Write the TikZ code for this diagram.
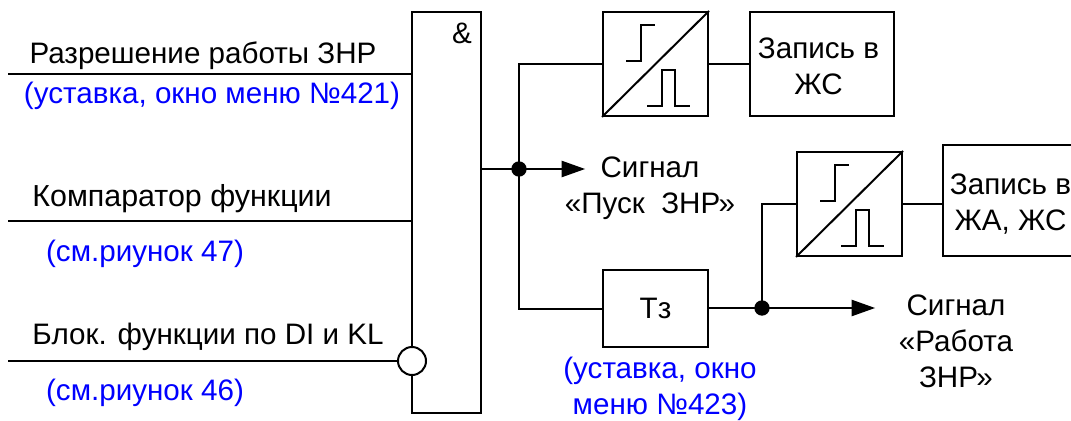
\documentclass[tikz,border=0pt]{standalone}
\usepackage{fontspec}
\setmainfont{Liberation Sans}
\usetikzlibrary{arrows.meta,calc}
\definecolor{setblue}{RGB}{0,0,255}
\tikzset{
  x=0.75pt,y=-0.75pt,
  wire/.style={line width=1.5pt,line cap=rect},
  arrowwire/.style={wire,-{Triangle[length=17.5pt,width=12.5pt,line width=0pt]}},
  boxed/.style={draw,line width=1.5pt,inner sep=0pt,fill=white,font=\fontsize{22.2}{27}\selectfont},
  conv/.style={boxed,minimum width=78.75pt,minimum height=78pt},
  recbox/.style={boxed,minimum height=78pt,align=center},
  txt/.style={inner sep=0pt,outer sep=0pt,align=center,font=\fontsize{22.2}{27}\selectfont},
  note/.style={txt,text=setblue},
  dotj/.style={circle,fill=black,inner sep=0pt,minimum size=11.5pt},
  inv/.style={circle,draw,line width=1.5pt,fill=white,inner sep=0pt,minimum size=21pt},
  glyph/.style={line width=1.5pt}
}
\newcommand{\convglyphs}[1]{%
  \draw[glyph] (#1.south west) -- (#1.north east);
  \draw[glyph] ($(#1.north west)+(24,50)$) -- ++(15,0) -- ++(0,-36) -- ++(14,0);
  \draw[glyph] ($(#1.north west)+(45,95)$) -- ++(15,0) -- ++(0,-36) -- ++(13,0) -- ++(0,36) -- ++(15,0);
}
\begin{document}
\begin{tikzpicture}
\clip (0,0) rectangle (1071,421);
\fill[white] (0,0) rectangle (1071,421);
% coordinates
\coordinate (i1) at (9,74);
\coordinate (i2) at (9,221);
\coordinate (i3) at (9,361);
\coordinate (o1) at (585,169);
\coordinate (o2) at (875,308);
% main blocks
\node[boxed,minimum width=51.75pt,minimum height=300.75pt] (and) at (446.5,212.5) {};
\node[txt,anchor=base] (amp) at (462,43) {\&};
\node[conv] (c1) at (655.5,64) {};
\node[conv] (c2) at (849.5,204) {};
\node[recbox,minimum width=108pt] (r1) at (821.5,64) {};
\node[txt] (r1t) at (818.5,66) {Запись в\\ЖС};
\node[boxed,minimum width=105pt,minimum height=83.25pt,align=center] (r2) at (1013,200.5) {};
\node[txt] (r2t) at (1010.5,204) {Запись в\\ЖА, ЖС};
\node[boxed,minimum width=78.75pt,minimum height=57.75pt] (tz) at (655.5,308.5) {Тз};
\node[inv] (neg) at (412,361) {};
\node[dotj] (j1) at (519,169) {};
\node[dotj] (j2) at (762,308) {};
% connectors
\draw[wire] (i1) -- (i1 -| and.west);
\draw[wire] (i2) -- (i2 -| and.west);
\draw[wire] (i3) -- (neg.west);
\draw[wire] (and.east |- j1) -- (j1);
\draw[arrowwire] (j1) -- (o1);
\draw[wire] (j1) |- (c1.west);
\draw[wire] (j1) |- (tz.west);
\draw[wire] (c1.east) -- (r1.west);
\draw[wire] (tz.east |- j2) -- (j2);
\draw[arrowwire] (j2) -- (o2);
\draw[wire] (j2) |- (c2.west);
\draw[wire] (c2.east) -- (c2.east -| r2.west);
\convglyphs{c1}
\convglyphs{c2}
% labels
\node[txt] (l1) at (203,56) {Разрешение работы ЗНР};
\node[note] (l1b) at (212,96) {(уставка, окно меню №421)};
\node[txt,font=\fontsize{22.8}{27}\selectfont] (l2) at (182,199) {Компаратор функции};
\node[note] (l2b) at (145,254) {(см.риунок 47)};
\node[txt] (l3) at (208,337) {Блок. функции по DI и KL};
\node[note] (l3b) at (145,393) {(см.риунок 46)};
\node[txt] (s1) at (650,188) {Сигнал\\«Пуск\ \ ЗНР»};
\node[note] (s1b) at (660,389) {(уставка, окно\\меню №423)};
\node[txt] (s2) at (956,341) {Сигнал\\«Работа\\ЗНР»};
\end{tikzpicture}
\end{document}
